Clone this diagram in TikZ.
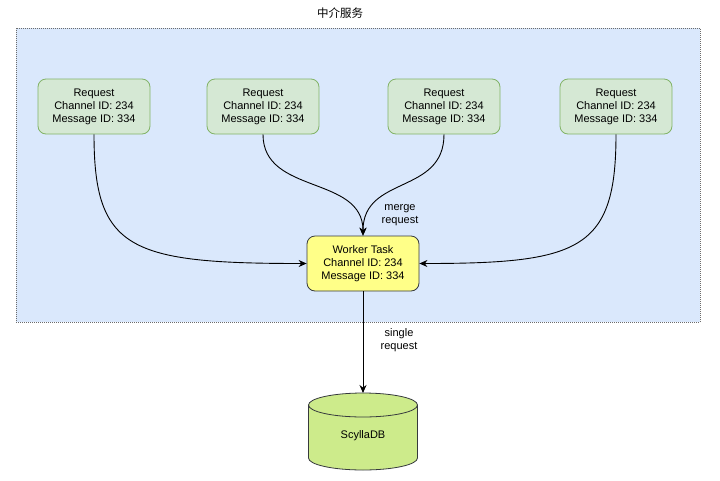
\documentclass[tikz,border=0pt]{standalone}
\usepackage{fontspec}
\setmainfont{Liberation Sans}
\newfontfamily\cjk{Noto Sans CJK SC}
\usetikzlibrary{arrows.meta}
\definecolor{contfill}{HTML}{DAE8FC}
\definecolor{contline}{HTML}{6C6C6C}
\definecolor{reqfill}{HTML}{D5E8D4}
\definecolor{reqline}{HTML}{82B366}
\definecolor{wfill}{HTML}{FFFF88}
\definecolor{wline}{HTML}{36393D}
\definecolor{dbfill}{HTML}{CDEB8B}
\tikzset{
  reqbox/.style={draw=reqline, fill=reqfill, rounded corners=8pt, minimum width=112pt, minimum height=55pt, align=center, font=\fontsize{11}{13}\selectfont, line width=0.8pt, inner sep=0pt},
  workbox/.style={draw=wline, fill=wfill, rounded corners=8pt, minimum width=112pt, minimum height=55pt, align=center, font=\fontsize{11}{13}\selectfont, line width=0.8pt, inner sep=0pt},
  conn/.style={draw=black, line width=0.9pt, -{Stealth[length=8pt,width=7pt]}},
  lbl/.style={align=center, font=\fontsize{11}{13}\selectfont, inner sep=0pt}
}
\begin{document}
\begin{tikzpicture}[x=1pt,y=-1pt]
\useasboundingbox (0,0) rectangle (720,480);
\fill[white] (0,0) rectangle (720,480);
% container
\draw[fill=contfill, draw=contline, dash pattern=on 1pt off 1pt, line width=0.8pt] (16,28) rectangle (700,322);
\node[lbl, font=\cjk\fontsize{11.5}{13}\selectfont] (title) at (340,13) {中介服务};
% request boxes
\node[reqbox] (r1) at (94,106.5) {Request\\Channel ID: 234\\Message ID: 334};
\node[reqbox] (r2) at (263,106.5) {Request\\Channel ID: 234\\Message ID: 334};
\node[reqbox] (r3) at (444,106.5) {Request\\Channel ID: 234\\Message ID: 334};
\node[reqbox] (r4) at (616,106.5) {Request\\Channel ID: 234\\Message ID: 334};
% worker
\node[workbox] (w) at (363,263.5) {Worker Task\\Channel ID: 234\\Message ID: 334};
% database cylinder
\coordinate (dbtop) at (363,393);
\draw[draw=wline, fill=dbfill, line width=0.8pt]
  (308.5,405) -- (308.5,458) arc[start angle=180, end angle=0, x radius=54.5, y radius=12]
  -- (417.5,405) arc[start angle=0, end angle=-180, x radius=54.5, y radius=12] -- cycle;
\draw[draw=wline, line width=0.8pt] (308.5,405) arc[start angle=180, end angle=0, x radius=54.5, y radius=12];
\node[lbl] (db) at (363,436) {ScyllaDB};
% labels
\node[lbl] (merge) at (400,215) {merge\\request};
\node[lbl] (single) at (399,340) {single\\request};
% connectors
\draw[conn] (r1.south) .. controls (94,250) and (130,263.5) .. (w.west);
\draw[conn] (r2.south) .. controls (263,195) and (363,175) .. (w.north);
\draw[conn] (r3.south) .. controls (444,195) and (363,175) .. (w.north);
\draw[conn] (r4.south) .. controls (616,250) and (580,263.5) .. (w.east);
\draw[conn] (w.south) -- (dbtop);
\end{tikzpicture}
\end{document}
